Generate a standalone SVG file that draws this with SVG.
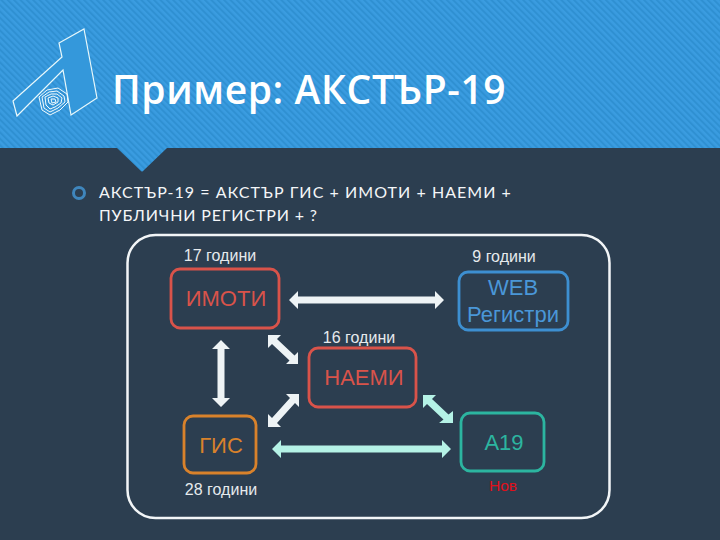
<svg xmlns="http://www.w3.org/2000/svg" width="720" height="540" viewBox="0 0 720 540">
<defs>
<pattern id="st" width="4.500" height="4.500" patternUnits="userSpaceOnUse" patternTransform="rotate(-45)">
<rect width="4.500" height="4.500" fill="#3a9ce0"/><rect width="2" height="4.500" fill="#2f90d2"/>
</pattern>
</defs>
<style>
text{font-family:"Liberation Sans",Arial,sans-serif}
.bg{font-family:"Lato","Open Sans",sans-serif;font-size:16px;font-weight:400;fill:#f4f6f8;letter-spacing:1.050px}
.lb{font-size:16px;fill:#e6eaed;text-anchor:middle}
.nt{font-size:22px;text-anchor:middle}
.box{fill:none;stroke-width:2.800}
.w{fill:#eef3f5}
.m{fill:#b5f2e6}
</style>
<rect width="720" height="540" fill="#2c3e50"/>
<path d="M0 0H720V148H167L143 171Q142 172 141 171L117 148H0Z" fill="url(#st)"/>
<g id="logo">
<path d="M84 29L97 98L71 115L63 70L17 116L13 101L62 57L59 43Z" fill="#3498db" stroke="#e8f8fb" stroke-width="1.200"/>
<g fill="none" stroke="#f2fbfd" stroke-width="1"><path d="M39 97L47 90L58 88L67 94L68 102L60 110L50 115L42 110Z"/><path d="M42 97L49 92L57 91L64 96L65 102L58 108L50 112L44 108Z"/><path d="M45 97L51 94L57 94L62 98L61 103L55 107L50 109L46 105Z"/><path d="M48 98L53 96L58 98L58 102L53 105L49 103Z"/><path d="M51 99L55 99L56 102L52 103Z"/></g>
</g>
<text id="title" x="112" y="104" font-size="39" font-weight="600" fill="#fff" letter-spacing="0.600" style="font-family:'Open Sans','Noto Sans',sans-serif">Пример: АКСТЪР-19</text>
<circle cx="79" cy="193" r="5.500" fill="none" stroke="#3f86bd" stroke-width="3"/>
<text class="bg" x="99" y="198">АКСТЪР-19 = АКСТЪР ГИС + ИМОТИ + НАЕМИ +</text>
<text class="bg" x="99" y="221" style="letter-spacing:.85px">ПУБЛИЧНИ РЕГИСТРИ + ?</text>
<rect x="127.500" y="235" width="482" height="283" rx="28" fill="none" stroke="#f2f5f7" stroke-width="2.500"/>
<g id="connectors">
<path class="w" d="M289 300L298 291V296.500H435V291L444 300L435 309V303.500H298V309Z"/>
<path class="w" d="M221 340L230 349H224.500V398H230L221 407L212 398H217.500V349H212Z"/>
<path class="w" d="M268 335H281L277 339L294.500 355.500L298 352V364H286L289.500 360.500L272 344L268 348Z"/>
<path class="w" d="M299 394V407L295 403L277 423L281 427H268V414L272 418L290 398L286 394Z"/>
<path class="m" d="M423 395H436L432 399L448.500 414.500L453 411V423H439L443.500 419.500L427 404L423 408Z"/>
<path class="m" d="M272 449L281 440V445.500H442V440L451 449L442 458V452.500H281V458Z"/>
</g>
<g id="imoti"><text class="lb" x="220" y="261">17 години</text><rect class="box" x="171" y="269" width="108" height="59" rx="9" stroke="#d9534a"/><text class="nt" x="226" y="306" fill="#d9534a">ИМОТИ</text></g>
<g id="web"><text class="lb" x="504" y="262">9 години</text><rect class="box" x="459" y="272" width="109" height="58" rx="9" stroke="#3d8fd1"/><text class="nt" x="513" y="295" fill="#4a97d8">WEB</text><text class="nt" x="513" y="322" fill="#4a97d8">Регистри</text></g>
<g id="naemi"><text class="lb" x="359" y="343">16 години</text><rect class="box" x="309" y="348" width="107" height="59" rx="9" stroke="#d9534a"/><text class="nt" x="364" y="385" fill="#d9534a">НАЕМИ</text></g>
<g id="gis"><rect class="box" x="184" y="416" width="72" height="57" rx="9" stroke="#d9822b"/><text class="nt" x="221" y="453" fill="#d9822b">ГИС</text><text class="lb" x="221" y="495">28 години</text></g>
<g id="a19"><rect class="box" x="461" y="413" width="83" height="58" rx="9" stroke="#2cb5a0"/><text class="nt" x="504" y="450" fill="#2cb5a0">A19</text><text x="503" y="491" font-size="15.500" fill="#e0101a" text-anchor="middle">Нов</text></g>
</svg>
